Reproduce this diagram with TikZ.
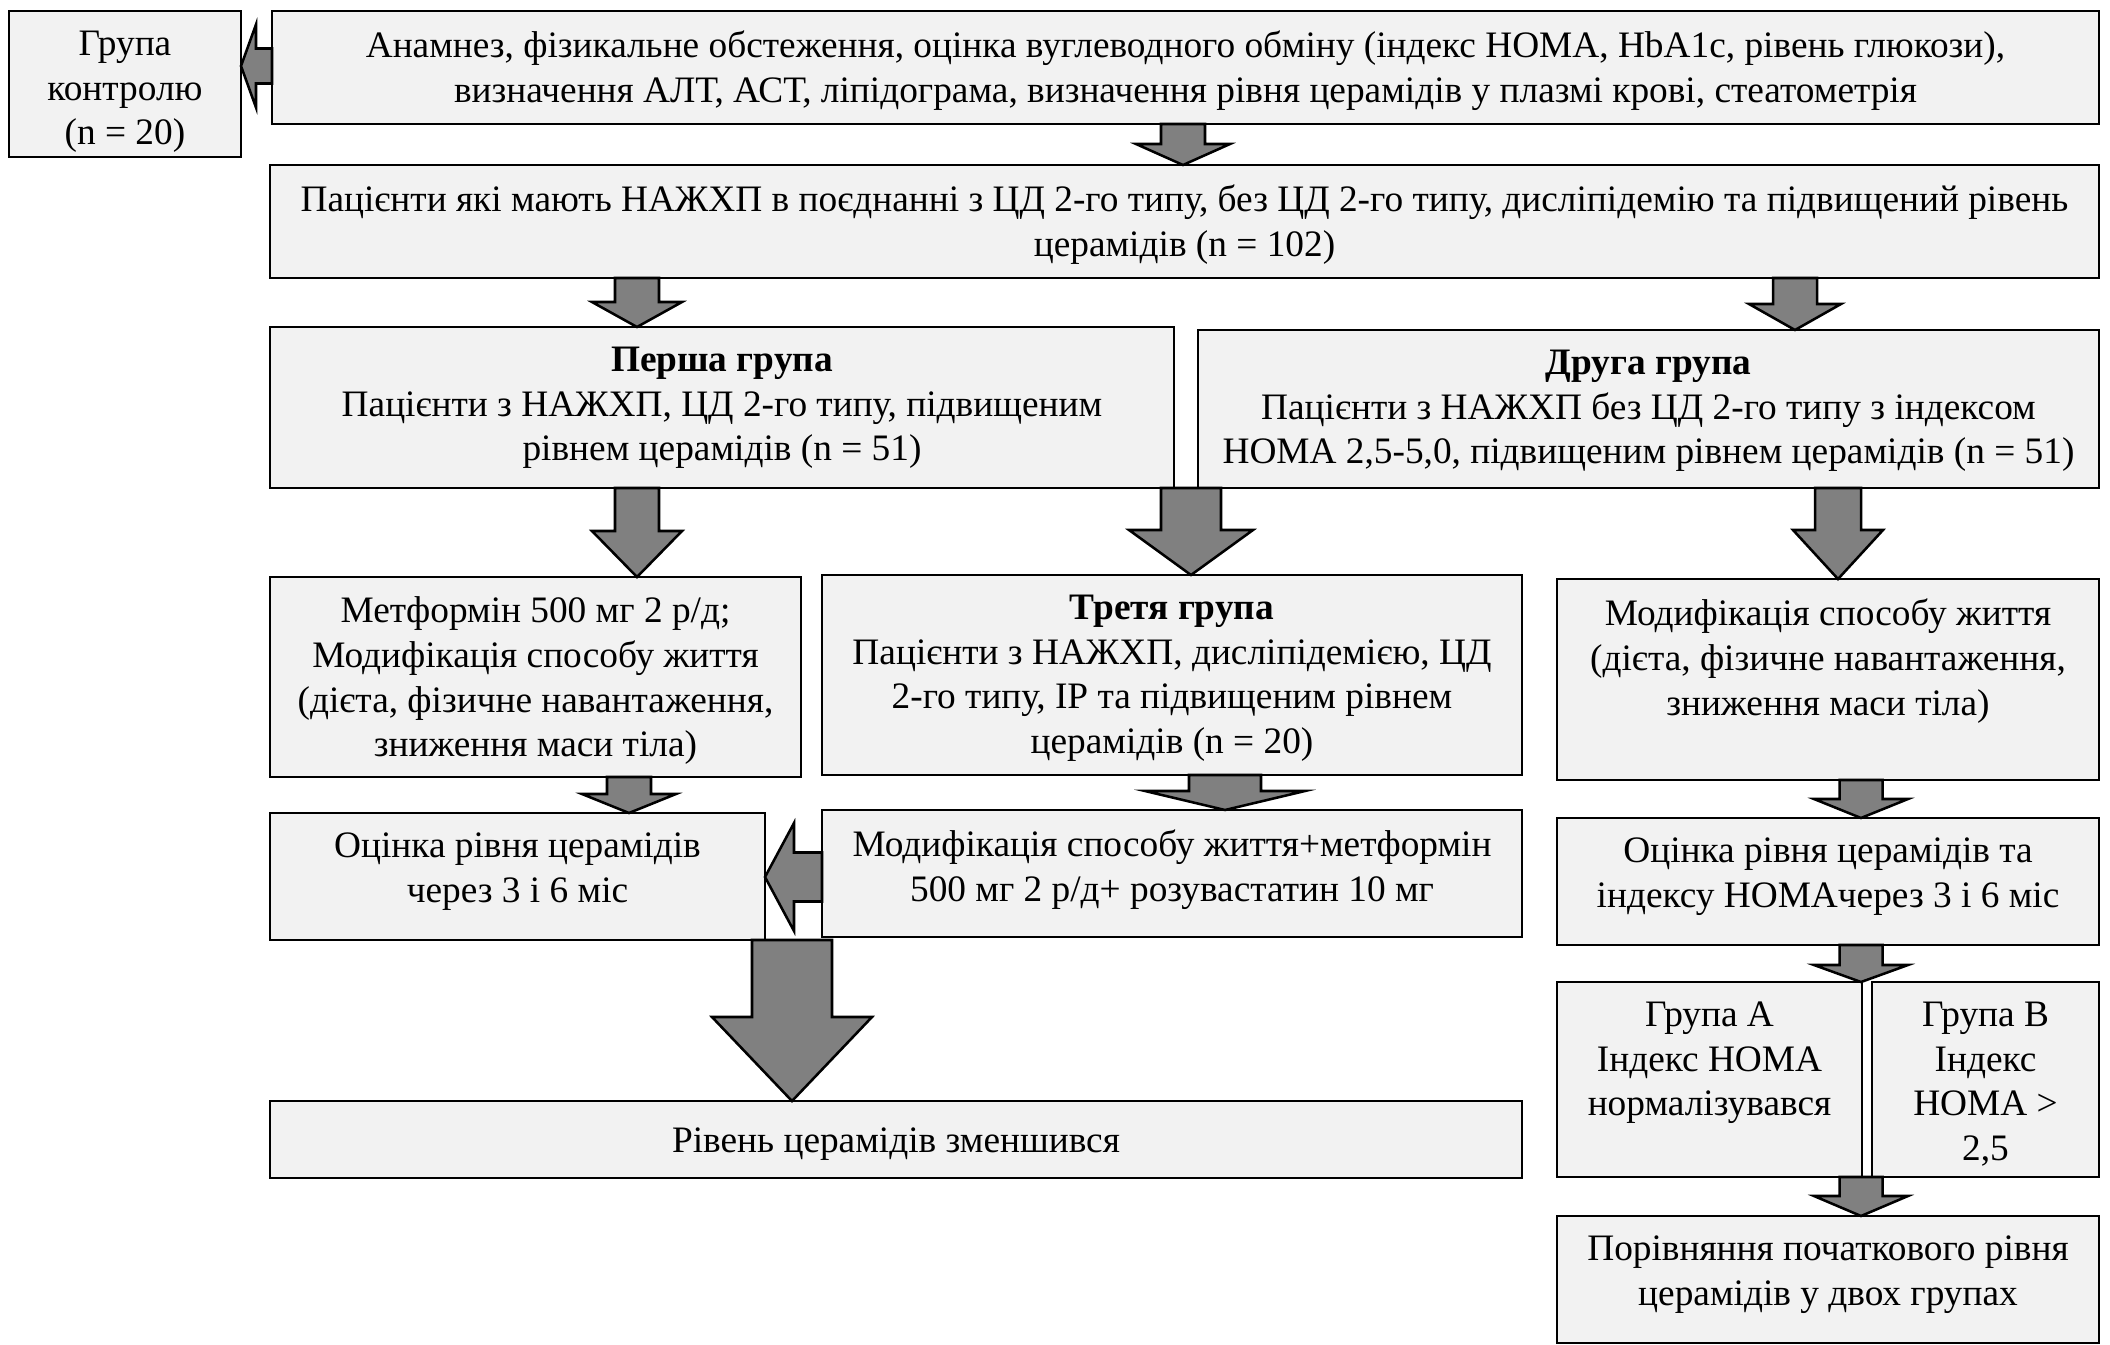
\documentclass[tikz,border=0pt]{standalone}
\usepackage{fontspec}
\setmainfont{Liberation Serif}
\usetikzlibrary{calc}
\definecolor{boxfill}{HTML}{F2F2F2}
\definecolor{arrfill}{HTML}{808080}
\tikzset{
  boxst/.style={draw=black, fill=boxfill, line width=1.9pt, inner sep=0pt, outer sep=0pt},
  txtst/.style={align=center, inner sep=0pt, outer sep=0pt,
    font=\fontsize{28pt}{33.5pt}\selectfont, execute at begin node=\strut},
  blkarrow/.style={draw=black, fill=arrfill, line width=1.9pt, line join=miter}
}
% box: name, left, top, right, bottom (px, y downwards), text
\newcommand\bx[6]{%
  \node[boxst, minimum width={(#4-#2)*0.75pt}, minimum height={(#5-#3)*0.75pt}, anchor=north west] (#1) at (#2,#3) {};
  \node[txtst, anchor=north] (#1-t) at ($(#1.north)+(0,20)$) {#6};
}
% down block arrow: source, target, centre x, shaft half width, head half width, head length
\newcommand\darr[6]{%
  \path[blkarrow] let \p1=(#1.south), \p2=(#2.north) in
    ({(#3-#4)*0.75pt},\y1) -- ({(#3-#4)*0.75pt},{\y2+#6*0.75pt}) --
    ({(#3-#5)*0.75pt},{\y2+#6*0.75pt}) -- ({#3*0.75pt},\y2) --
    ({(#3+#5)*0.75pt},{\y2+#6*0.75pt}) -- ({(#3+#4)*0.75pt},{\y2+#6*0.75pt}) --
    ({(#3+#4)*0.75pt},\y1) -- cycle;
}
% left block arrow: source (right), target (left), centre y, shaft half, head half, head length
\newcommand\larr[6]{%
  \path[blkarrow] let \p1=(#1.west), \p2=(#2.east) in
    (\x1,{-(#3-#4)*0.75pt}) -- ({\x2+#6*0.75pt},{-(#3-#4)*0.75pt}) --
    ({\x2+#6*0.75pt},{-(#3-#5)*0.75pt}) -- (\x2,{-#3*0.75pt}) --
    ({\x2+#6*0.75pt},{-(#3+#5)*0.75pt}) -- ({\x2+#6*0.75pt},{-(#3+#4)*0.75pt}) --
    (\x1,{-(#3+#4)*0.75pt}) -- cycle;
}
\begin{document}
\begin{tikzpicture}[x=0.75pt, y=-0.75pt]
\useasboundingbox (0,0) rectangle (2110,1345);

\bx{ctrl}{9}{11}{241}{157}{Група\\контролю\\(n = 20)}
\bx{top}{272}{11}{2099}{124}{Анамнез, фізикальне обстеження, оцінка вуглеводного обміну (індекс HOMA, HbA1c, рівень глюкози),\\визначення АЛТ, АСТ, ліпідограма, визначення рівня церамідів у плазмі крові, стеатометрія}
\bx{pat}{270}{165}{2099}{278}{Пацієнти які мають НАЖХП в поєднанні з ЦД 2-го типу, без ЦД 2-го типу, дисліпідемію та підвищений рівень\\церамідів (n = 102)}
\bx{g1}{270}{327}{1174}{488}{\textbf{Перша група}\\Пацієнти з НАЖХП, ЦД 2-го типу, підвищеним\\рівнем церамідів (n = 51)}
\bx{g2}{1198}{330}{2099}{488}{\textbf{Друга група}\\Пацієнти з НАЖХП без ЦД 2-го типу з індексом\\HOMA 2,5-5,0, підвищеним рівнем церамідів (n = 51)}
\bx{met}{270}{577}{801}{777}{Метформін 500 мг 2 р/д;\\Модифікація способу життя\\(дієта, фізичне навантаження,\\зниження маси тіла)}
\bx{g3}{822}{575}{1522}{775}{\textbf{Третя група}\\Пацієнти з НАЖХП, дисліпідемією, ЦД\\2-го типу, ІР та підвищеним рівнем\\церамідів (n = 20)}
\bx{modR}{1557}{579}{2099}{780}{Модифікація способу життя\\(дієта, фізичне навантаження,\\зниження маси тіла)}
\bx{oc1}{270}{813}{765}{940}{Оцінка рівня церамідів\\через 3 і 6 міс}
\bx{mod3}{822}{810}{1522}{937}{Модифікація способу життя+метформін\\500 мг 2 р/д+ розувастатин 10 мг}
\bx{oc2}{1557}{818}{2099}{945}{Оцінка рівня церамідів та\\індексу HOMAчерез 3 і 6 міс}
\bx{grA}{1557}{982}{1862}{1177}{Група А\\Індекс HOMA\\нормалізувався}
\bx{grB}{1872}{982}{2099}{1177}{Група В\\Індекс\\HOMA >\\2,5}
\bx{res}{270}{1101}{1522}{1178}{Рівень церамідів зменшився}
\bx{cmp}{1557}{1216}{2099}{1343}{Порівняння початкового рівня\\церамідів у двох групах}

\larr{top}{ctrl}{66}{17.5}{41.5}{15}
\darr{top}{pat}{1183}{22}{47}{21}
\darr{pat}{g1}{637}{22}{45}{25}
\darr{pat}{g2}{1795}{22}{46}{26}
\darr{g1}{met}{637}{22}{45}{46}
\darr{g1}{g3}{1191}{30}{62}{45}
\darr{g2}{modR}{1838}{23}{45}{49}
\darr{met}{oc1}{629}{22}{47}{19}
\darr{g3}{mod3}{1225}{36}{80}{19}
\larr{mod3}{oc1}{877}{24.5}{54}{29}
\darr{oc1}{res}{792}{40}{80}{84}
\darr{modR}{oc2}{1861}{21.5}{47}{19}
\darr{oc2}{grA}{1861}{21.5}{47}{17}
\darr{grA}{cmp}{1861}{21.5}{47}{20}
\end{tikzpicture}
\end{document}
